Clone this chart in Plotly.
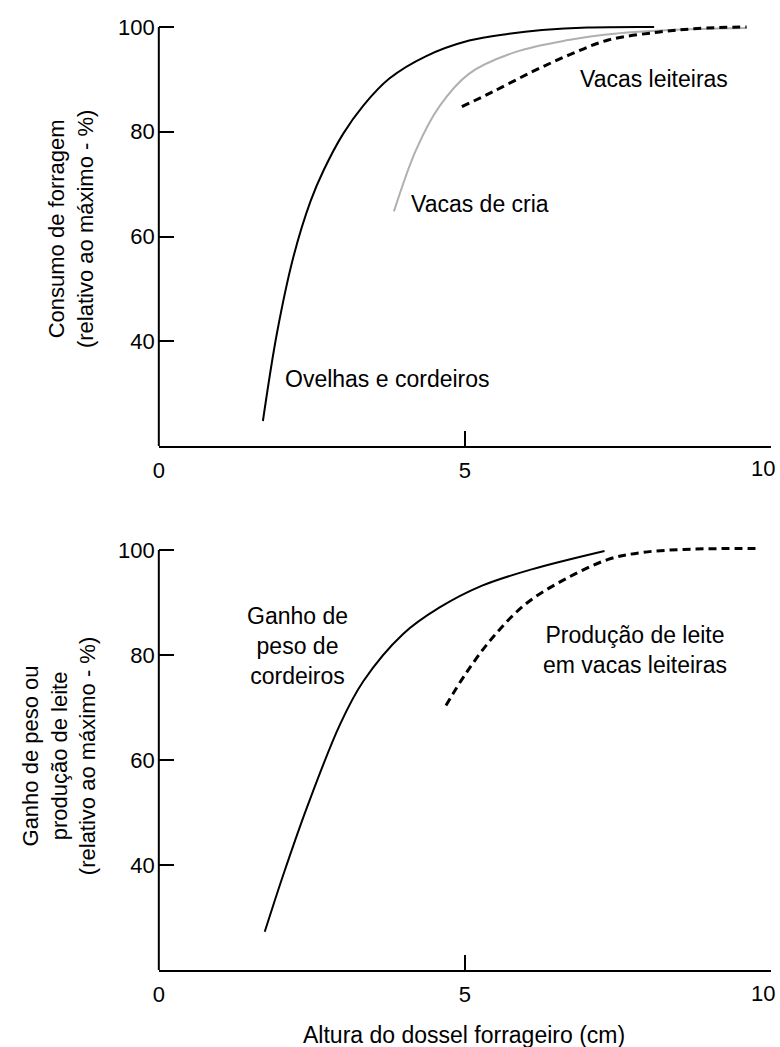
import plotly.graph_objects as go

# ---------------- data ----------------
# Top panel: forage intake relative to maximum (%)
ovelhas_x = [1.70, 1.93, 2.20, 2.48, 2.69, 3.01, 3.34, 3.77, 4.36, 5.07, 5.72, 6.26, 7.00, 8.09]
ovelhas_y = [24.8, 41.6, 56.2, 66.8, 72.6, 79.6, 85.0, 90.2, 94.4, 97.4, 98.7, 99.4, 99.9, 100.0]

cria_x = [3.84, 4.20, 4.58, 5.07, 5.82, 6.69, 7.44, 8.53, 9.60]
cria_y = [64.8, 76.5, 84.8, 91.1, 95.2, 97.5, 98.7, 99.5, 99.8]

leiteiras_x = [4.95, 5.45, 6.09, 6.69, 7.34, 8.15, 8.80, 9.60]
leiteiras_y = [84.8, 87.6, 91.4, 94.6, 97.5, 99.0, 99.7, 100.0]

# Bottom panel: weight gain / milk production relative to maximum (%)
ganho_x = [1.73, 2.04, 2.42, 2.96, 3.34, 3.99, 4.58, 5.28, 6.09, 7.28]
ganho_y = [27.3, 38.4, 51.0, 66.8, 75.0, 84.0, 89.0, 93.2, 96.3, 99.8]

leite_x = [4.69, 5.01, 5.45, 5.99, 6.63, 7.34, 7.88, 8.58, 9.82]
leite_y = [70.4, 76.4, 83.3, 89.7, 94.4, 98.2, 99.5, 100.1, 100.3]

x_ticks = [0, 5, 10]
x_ticktext = ["0", "5", ""]      # the "10" label is placed as an annotation (kept inside the page)
x_last_label = "10"
y_ticks = [40, 60, 80, 100]
Y_MIN, Y_MAX, Y_TOP = 20, 100, 102   # Y_TOP: small headroom so lines at 100 are not clipped

FONT = "Arial, Liberation Sans, Helvetica, sans-serif"
FS_TICK = 22
FS_LAB = 23
FS_TITLE = 22
W, H = 780, 1047

fig = go.Figure()

solid = dict(color="black", width=2, shape="spline")
dashed = dict(color="black", width=3, dash="8px,5px", shape="spline")
gray = dict(color="#b0b0b0", width=2, shape="spline")

fig.add_trace(go.Scatter(x=ovelhas_x, y=ovelhas_y, mode="lines", line=solid, xaxis="x", yaxis="y"))
fig.add_trace(go.Scatter(x=cria_x, y=cria_y, mode="lines", line=gray, xaxis="x", yaxis="y"))
fig.add_trace(go.Scatter(x=leiteiras_x, y=leiteiras_y, mode="lines", line=dashed, xaxis="x", yaxis="y"))

fig.add_trace(go.Scatter(x=ganho_x, y=ganho_y, mode="lines", line=solid, xaxis="x2", yaxis="y2"))
fig.add_trace(go.Scatter(x=leite_x, y=leite_y, mode="lines", line=dashed, xaxis="x2", yaxis="y2"))

# pixel layout: top panel 100 -> y=25, 20 -> y=445 ; bottom panel 100 -> y=549, 20 -> y=970
def dom(p100, p20):
    per = (p20 - p100) / (Y_MAX - Y_MIN)
    ptop = p100 - (Y_TOP - Y_MAX) * per
    return [1 - p20 / H, 1 - ptop / H]

X0_PX, X1_PX = 154, 771
xdom = [X0_PX / W, X1_PX / W]
top_dom = dom(25, 445)
bot_dom = dom(549, 970)

tick_common = dict(
    ticks="inside", ticklen=15, tickwidth=2, tickcolor="black",
    showgrid=False, zeroline=False, ticklabelstandoff=3,
    tickfont=dict(family=FONT, size=FS_TICK, color="black"),
)
xax = dict(range=[0, 10], tickvals=x_ticks, ticktext=x_ticktext, domain=xdom,
           showline=True, linecolor="black", linewidth=2, **tick_common)
yax = dict(range=[Y_MIN, Y_TOP], tickvals=y_ticks, showline=False, **tick_common)

fig.update_layout(
    width=W, height=H,
    margin=dict(l=0, r=0, t=0, b=0),
    paper_bgcolor="white", plot_bgcolor="white",
    showlegend=False,
    font=dict(family=FONT, size=FS_TICK, color="black"),
    xaxis=dict(anchor="y", **xax),
    yaxis=dict(anchor="x", domain=top_dom, **yax),
    xaxis2=dict(anchor="y2", **xax),
    yaxis2=dict(anchor="x2", domain=bot_dom, **yax),
)

# vertical axis lines running from 20 to 100 only
for yr in ("y", "y2"):
    fig.add_shape(type="line", xref="paper", yref=yr, x0=xdom[0], x1=xdom[0],
                  y0=Y_MIN, y1=Y_MAX, line=dict(color="black", width=2))

ann = []
def lab(text, x, y, xref, yref, size=FS_LAB, **kw):
    d = dict(text=text, x=x, y=y, xref=xref, yref=yref, showarrow=False,
             font=dict(family=FONT, size=size, color="black"), align="center",
             xanchor="center", yanchor="middle")
    d.update(kw)
    ann.append(d)

lab("Vacas leiteiras", 8.09, 90.1, "x", "y")
lab("Vacas de cria", 5.25, 66.3, "x", "y")
lab("Ovelhas e cordeiros", 3.74, 32.8, "x", "y")
lab("Ganho de<br>peso de<br>cordeiros", 2.27, 81.8, "x2", "y2")
lab("Produção de leite<br>em vacas leiteiras", 7.78, 81.0, "x2", "y2")

# last x tick label of each panel, nudged left so it stays inside the page
lab(x_last_label, x_ticks[-1], 1 - 467 / H, "x", "paper", size=FS_TICK, xshift=-8)
lab(x_last_label, x_ticks[-1], 1 - 993 / H, "x2", "paper", size=FS_TICK, xshift=-8)

lab("Consumo de forragem<br>(relativo ao máximo - %)", 65 / W, 1 - 228 / H, "paper", "paper",
    size=FS_TITLE, textangle=-90)
lab("Ganho de peso ou<br>produção de leite<br>(relativo ao máximo - %)", 53 / W, 1 - 756 / H,
    "paper", "paper", size=FS_TITLE, textangle=-90)
lab("Altura do dossel forrageiro (cm)", 462 / W, 1 - 1035 / H, "paper", "paper")

fig.update_layout(annotations=ann)

fig.write_html(
    "out.html",
    config={"displayModeBar": False},
    post_script="document.body.style.margin='0';document.body.style.overflow='hidden';",
)
